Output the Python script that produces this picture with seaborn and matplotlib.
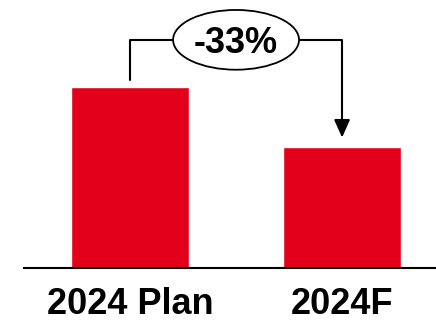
import matplotlib
matplotlib.use("Agg")
import matplotlib.pyplot as plt
import seaborn as sns
import pandas as pd
from matplotlib.patches import Ellipse

categories = ["2024 Plan", "2024F"]
values = [100, 67]
bar_color = "#E2001A"

sns.set_theme(style="white")
plt.rcParams["font.family"] = ["Liberation Sans", "DejaVu Sans"]

df = pd.DataFrame({"cat": categories, "val": values})

fig = plt.figure(figsize=(4.36, 3.2), dpi=100)
ax = fig.add_axes([24 / 436, 52 / 320, 1 - 24 / 436, 268 / 320])
sns.barplot(data=df, x="cat", y="val", color=bar_color, width=0.557, ax=ax,
            saturation=1)
ax.set_xlim(-0.5, 1.443)
ax.set_ylim(0, 148)
ax.set_xlabel("")
ax.set_ylabel("")
ax.set_yticks([])
for s in ["top", "right", "left"]:
    ax.spines[s].set_visible(False)
ax.spines["bottom"].set_color("black")
ax.spines["bottom"].set_linewidth(1.5)
ax.tick_params(axis="x", length=0, pad=14)
for lab in ax.get_xticklabels():
    lab.set_fontsize(26)
    lab.set_fontweight("bold")
    lab.set_color("black")

# bracket annotation
top = max(values) * 1.26
y0 = values[0] * 1.04
y1 = values[1] * 1.075
ax.plot([0, 0, 0.2], [y0, top, top], color="black", lw=1.5, clip_on=False)
ax.plot([0.8, 1, 1], [top, top, y1 + 8], color="black", lw=1.5, clip_on=False)
ax.annotate("", xy=(1, y1), xytext=(1, y1 + 9),
            arrowprops=dict(arrowstyle="-|>,head_length=0.9,head_width=0.4",
                            color="black", lw=1.5, shrinkA=0, shrinkB=0))
ell = Ellipse((0.5, top), 0.594, 33, facecolor="white", edgecolor="black",
              lw=1.3, clip_on=False, zorder=5)
ax.add_patch(ell)
pct = (values[1] - values[0]) / values[0] * 100
ax.text(0.5, top, f"{pct:.0f}%", ha="center", va="center_baseline", fontsize=26,
        fontweight="bold", color="black", zorder=6)

fig.savefig("out.png", dpi=100)
